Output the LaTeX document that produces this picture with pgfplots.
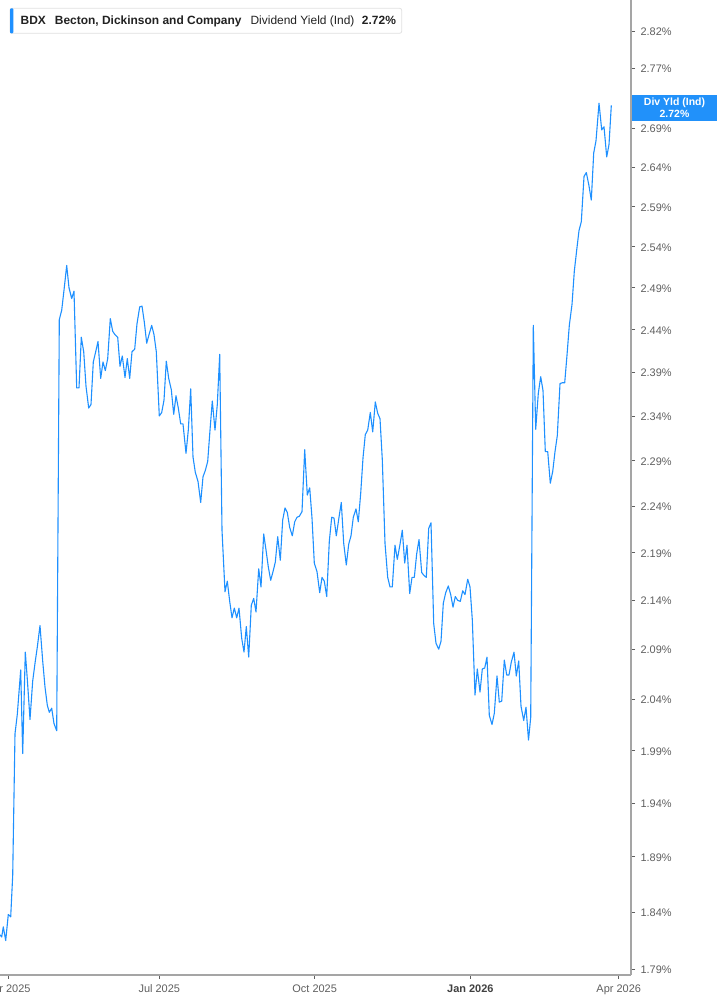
\documentclass[border=0pt]{standalone}
\usepackage{fontspec}
\setmainfont{Liberation Sans}
\usepackage{pgfplots}
\pgfplotsset{compat=1.18}
\definecolor{dbblue}{RGB}{30,144,255}
\definecolor{boxblue}{RGB}{33,145,250}
\definecolor{axgray}{RGB}{165,165,165}
\definecolor{lblgray}{RGB}{95,95,95}
\definecolor{txtdark}{RGB}{34,34,34}
\begin{document}
\begin{tikzpicture}[x=1bp,y=1bp]
\begin{axis}[
  at={(0,0)}, anchor=south west,
  scale only axis, width=631bp, height=975bp,
  xmin=0, xmax=631,
  ymode=log, ymin=1.7849, ymax=2.8627,
  axis x line=bottom, axis y line=right,
  axis line style={-, axgray, line width=1.5bp},
  tick align=outside,
  major tick length=4bp,
  tick style={lblgray, line width=0.8bp},
  xtick={8.3,159.3,314.7,470.3,618.7},
  xticklabels={Apr 2025, Jul 2025, Oct 2025, {\bfseries\color{black!75}Jan 2026}, Apr 2026},
  ytick={1.79,1.84,1.89,1.94,1.99,2.04,2.09,2.14,2.19,2.24,2.29,2.34,2.39,2.44,2.49,2.54,2.59,2.64,2.69,2.77,2.82},
  yticklabels={1.79\%,1.84\%,1.89\%,1.94\%,1.99\%,2.04\%,2.09\%,2.14\%,2.19\%,2.24\%,2.29\%,2.34\%,2.39\%,2.44\%,2.49\%,2.54\%,2.59\%,2.64\%,2.69\%,2.77\%,2.82\%},
  ticklabel style={font=\fontsize{11}{13}\selectfont, text=lblgray},
  yticklabel style={xshift=2bp, yshift=-0.8bp},
  xticklabel style={yshift=-2bp},
  /pgf/number format/assume math mode=true,
  clip=true,
]
\addplot[color=dbblue, line width=1.1bp, line join=round] table {
x y
0 1.820
1.7 1.818
3.3 1.827
5.7 1.815
8.3 1.838
10.7 1.836
12.7 1.873
15 2.006
17.3 2.025
20.7 2.069
22.7 1.987
25.3 2.087
27.3 2.060
30 2.020
32.7 2.058
35.3 2.078
37.3 2.092
40 2.114
42.7 2.078
45 2.052
47.3 2.034
49.3 2.027
51.7 2.031
54 2.016
56.7 2.009
59.3 2.452
61.7 2.463
64 2.487
66.7 2.517
69 2.490
71.7 2.477
74 2.486
76.7 2.372
79 2.372
81.3 2.431
83.7 2.414
86 2.374
88.7 2.349
91 2.353
93.3 2.402
95.7 2.414
98 2.426
100.7 2.383
103 2.402
105.3 2.392
107.7 2.406
110.3 2.453
112.7 2.438
115 2.434
117.7 2.431
120 2.397
122.3 2.409
125 2.384
127.3 2.406
129.7 2.383
132 2.414
134.7 2.417
137 2.447
139.7 2.467
142 2.468
144.3 2.449
146.7 2.424
149 2.434
151.7 2.445
154 2.434
156.3 2.414
159.3 2.340
161.7 2.344
164 2.358
166.3 2.403
168.7 2.383
171.3 2.370
173.7 2.342
176 2.363
178.3 2.349
180.7 2.331
183 2.331
186 2.298
188.3 2.324
190.7 2.371
193 2.294
195.3 2.277
198 2.267
200.7 2.244
203 2.272
205.3 2.279
207.7 2.289
210 2.324
212.3 2.357
215 2.324
217.3 2.353
219.7 2.411
222 2.214
224.3 2.164
225 2.149
227.3 2.160
229.7 2.139
232 2.122
234.3 2.132
236.7 2.122
239 2.132
241.7 2.101
244 2.087
246.3 2.113
248.7 2.082
251.3 2.135
253.7 2.142
256 2.128
258.7 2.173
261 2.154
263.7 2.210
266 2.193
268.3 2.175
270.7 2.161
273 2.170
275.3 2.180
277.7 2.207
280.3 2.182
282.7 2.225
285 2.238
287.3 2.233
289.7 2.217
292.3 2.208
294.7 2.223
297 2.228
299.3 2.229
302 2.234
304.7 2.302
307.3 2.252
309.7 2.260
312 2.227
314.3 2.179
317 2.170
319.7 2.148
322 2.164
324.3 2.160
326.7 2.144
329.3 2.202
331.7 2.228
334 2.227
336.3 2.208
339 2.228
341.3 2.244
343.7 2.200
346.3 2.177
348.7 2.199
351 2.208
353.3 2.228
356 2.237
358.3 2.223
360.7 2.254
363 2.293
365.3 2.319
367.7 2.324
370.3 2.344
372.7 2.322
375.3 2.356
377.7 2.343
380 2.337
382.3 2.291
385 2.200
387.7 2.164
390 2.154
392.3 2.154
395 2.198
397.3 2.183
399.7 2.197
402.3 2.214
404.7 2.179
407 2.198
409.7 2.147
412 2.164
414.3 2.164
416.7 2.189
419 2.204
421.7 2.169
424 2.166
426.3 2.164
428.7 2.216
431 2.222
433.7 2.116
436 2.096
438.7 2.090
441 2.098
443.3 2.137
445.7 2.148
448.3 2.155
450.7 2.146
453 2.133
455.3 2.144
457.7 2.140
460.3 2.139
462.7 2.150
465 2.146
467.7 2.162
470 2.154
472.3 2.120
475 2.044
477.3 2.070
480 2.047
482.3 2.070
484.7 2.071
487 2.082
489.3 2.024
492 2.015
494.3 2.026
497 2.063
499.3 2.037
501.7 2.038
504.3 2.079
506.7 2.064
509 2.064
511.3 2.077
514 2.087
516.3 2.063
518.7 2.078
521 2.033
523.7 2.019
526 2.032
528.5 2.000
530.7 2.022
533.3 2.445
535.7 2.325
538.3 2.366
540.7 2.385
543 2.369
545.3 2.300
547.7 2.300
550.3 2.265
552.7 2.278
555 2.300
557.3 2.318
560 2.377
562.3 2.378
564.7 2.378
567 2.410
569.3 2.445
572 2.470
574.3 2.510
576.7 2.536
579 2.560
581.3 2.571
584 2.628
586.3 2.633
588.7 2.618
591.3 2.598
593.7 2.658
596 2.674
599 2.723
601.7 2.688
604 2.692
606.7 2.653
609 2.669
611.3 2.720
};
\end{axis}
% legend header box
\draw[draw=black!12, fill=white, rounded corners=2bp, line width=0.8bp] (10,941.7) rectangle (401.7,966.7);
\fill[dbblue, rounded corners=1bp] (10,941.7) rectangle (13.3,966.7);
\node[anchor=base west, inner sep=0pt, text=txtdark, font=\fontsize{12}{14}\selectfont] at (20.5,950)
  {\textbf{BDX}\hspace{9bp}\textbf{Becton, Dickinson and Company}\hspace{9bp}Dividend Yield (Ind)\hspace{7.5bp}\textbf{2.72\%}};
% current value box
\fill[boxblue] (632,854) rectangle (717,880);
\node[anchor=center, inner sep=0pt, text=white, font=\fontsize{10.5}{12}\selectfont\bfseries, align=center] at (674.5,867)
  {Div Yld (Ind)\\2.72\%};
\pgfresetboundingbox
\useasboundingbox (0,-30) rectangle (717,975);
\end{tikzpicture}
\end{document}
